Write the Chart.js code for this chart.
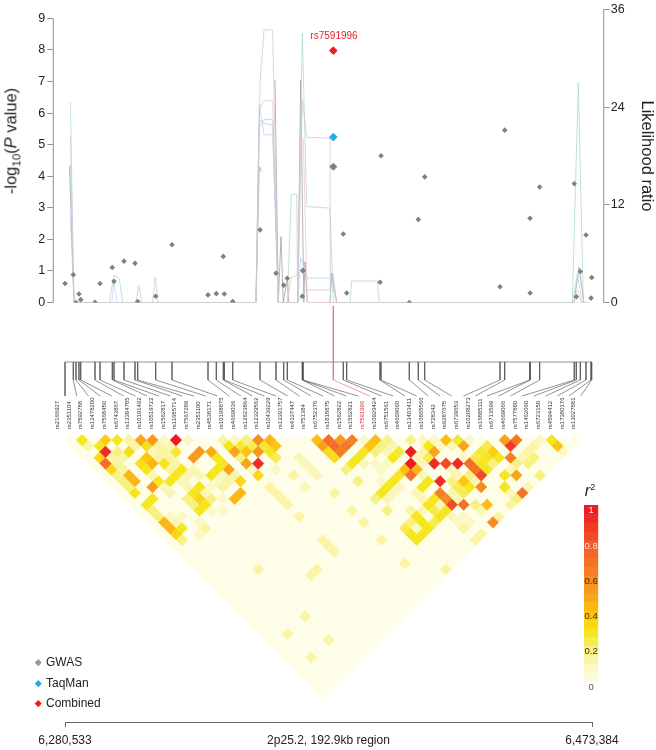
<!DOCTYPE html>
<html>
<head>
<meta charset="utf-8">
<script src="https://cdn.jsdelivr.net/npm/chart.js@4/dist/chart.umd.js"></script>
<style>
  html, body { margin: 0; background: #fff; }
  #page { position: relative; width: 656px; height: 750px; overflow: hidden; font-family: "Liberation Sans", Arial, sans-serif; color: #222; }
  canvas { position: absolute; }
  .note { position: absolute; white-space: nowrap; }
  .mark { position: absolute; width: 4.5px; height: 4.5px; transform: rotate(45deg); }
</style>
</head>
<body>
<div id="page">
  <canvas id="ldChart" style="left:0px;top:380px" width="656" height="325"></canvas>
  <canvas id="assocChart" style="left:0px;top:0px" width="656" height="312"></canvas>
  <canvas id="linkChart" style="left:0px;top:300px" width="656" height="100"></canvas>
  <canvas id="rampChart" style="left:574px;top:500px" width="34" height="195"></canvas>
  <canvas id="regionChart" style="left:0px;top:716px" width="656" height="34"></canvas>

  <div class="note" style="left:12px;top:141px;font-size:16.5px;transform:translate(-50%,-50%) rotate(-90deg)">-log<sub style="font-size:11.5px">10</sub>(<i>P</i> value)</div>
  <div class="note" style="left:334px;top:35px;font-size:10px;color:#ed1c24;transform:translate(-50%,-50%)">rs7591996</div>
  <div class="note" style="left:590px;top:491px;font-size:16px;transform:translate(-50%,-50%)"><i>r</i><sup style="font-size:9px">2</sup></div>

  <div class="mark" style="left:36px;top:660px;background:#999"></div>
  <div class="note" style="left:46px;top:655px;font-size:12px">GWAS</div>
  <div class="mark" style="left:36px;top:681px;background:#27aae1"></div>
  <div class="note" style="left:46px;top:676px;font-size:12px">TaqMan</div>
  <div class="mark" style="left:36px;top:701px;background:#ed1c24"></div>
  <div class="note" style="left:46px;top:696px;font-size:12px">Combined</div>
</div>
<script>
Chart.defaults.animation = false;
Chart.defaults.responsive = false;
Chart.defaults.font.family = '"Liberation Sans", Arial, sans-serif';
Chart.defaults.plugins.legend.display = false;
Chart.defaults.plugins.tooltip.enabled = false;

const snpNames = ['rs2166927','rs2351104','rs7592788','rs12478200','rs7568450','rs6743867','rs13384785','rs10191492','rs10519722','rs1562817','rs11685714','rs7567289','rs2351100','rs4538171','rs10198875','rs4669036','rs12623864','rs12329562','rs10439229','rs13391757','rs4337447','rs751384','rs6752376','rs1818875','rs1562822','rs1562821','rs7591996','rs10929424','rs6751561','rs4669060','rs13403411','rs16865566','rs728342','rs9287675','rs6739653','rs10208273','rs16885111','rs6713599','rs4669066','rs7577880','rs1462060','rs6723150','rs4594412','rs17380176','rs13027881'];

// kb from the start of the region
const regionKb = 192.851;
const snpKb = [0,3.04,4.03,5.12,5.75,10.98,12.81,17.31,17.93,21.59,25.62,26.6,33.19,39.16,52.33,55.37,57.93,58.3,61.37,71.36,77.21,80.03,81.35,86.84,86.98,87.1,98.18,101.84,103.08,115.27,115.64,125.99,129.28,131.62,159.18,160.9,170.16,170.2,173.7,186.37,187.1,188.57,190.65,192.49,192.74];
const gwasLogP = [0.6,0.88,0,0.27,0.09,0.01,0.6,1.11,0.67,1.31,1.24,0.03,0.2,1.83,0.24,0.28,1.46,0.27,0.03,2.3,0.93,0.55,0.77,0.2,1.01,1.01,4.3,2.17,0.3,0.64,4.65,0,2.63,3.98,0.5,5.46,2.67,0.3,3.66,3.76,0.18,0.98,2.14,0.14,0.79];
const focusIndex = 26;
const taqmanLogP = 5.24;
const combinedLogP = 7.98;

// likelihood ratio traces, [kb, LR]
const traceGreen = [[1.65,16.9],[2,16.9],[3.29,0],[16.2,0],[17.93,3.34],[19.88,2.95],[21.1,0],[69.89,0],[71.1,22.5],[72.84,22],[76,21.8],[78.06,0],[81.35,0],[82.81,13.3],[84.79,13.3],[85.15,0],[86.84,33.1],[88.45,11.8],[96.97,11.6],[98.18,0],[104.29,0],[104.91,2.64],[114.28,2.64],[115.01,0],[185.64,0],[187.84,27],[189.67,0]];
const traceBlue = [[1.65,24.5],[2,24.5],[3.29,0],[17.08,0],[17.93,2.5],[19.14,0],[69.89,0],[71.1,24.4],[72.84,20.6],[76,20.6],[78.06,0],[85.15,0],[86.25,5.5],[88.67,3],[96.97,3],[99.42,0],[185.64,0],[187.5,3.53],[189.3,0]];
const traceRed = [[1.65,20.3],[2,20.3],[3.29,0],[69.89,0],[71.1,23.7],[72.84,24.8],[76,24.8],[78.06,0],[81.35,0],[82.81,3.14],[85,3.34],[86.25,20.2],[87.2,20.2],[88.67,0],[186,0],[187.5,1.5],[189,0],[191.75,0]];
const traceLavender = [[1.65,10.5],[2,10.5],[3.29,0],[25.98,0],[26.97,2.13],[28.06,0],[31.96,0],[33.05,3.1],[34.03,0],[69.89,0],[71.4,27.2],[72.84,33.5],[76,33.5],[78.06,0],[85.15,0],[86.84,24.9],[88.45,20.3],[96.97,20.2],[97.1,0],[191.75,0]];
const traceMauve = [[69.89,0],[71.1,21.5],[72.84,22.5],[76,22.5],[78.06,0],[85.15,0],[87.82,1.55],[96.97,1.55],[98,3.6],[99.42,0]];
const traceDark = [[1.65,16.7],[3.29,0],[69.89,0],[71.1,16.7],[71.99,16.1],[72,null],[76.85,27.3],[78.06,0],[79.04,8.1],[79.88,0],[81.35,3],[81.9,0],[85.15,0],[86.25,27.3],[87.4,0],[87.82,5],[88.67,0],[96.97,0],[97.6,3.6],[99.42,0],[186.26,0],[188.09,4.34],[189.92,0],[191.75,0]];

// LD cells: [sum of the two SNP indexes, difference of the two SNP indexes, r2]
const ldCells = [
  [3,1,.3],[7,1,.38],[9,1,.3],[11,1,.15],[13,1,.5],[15,1,.55],[17,1,.1],[19,1,1],[21,1,.1],[27,1,.15],[29,1,.1],[31,1,.2],[33,1,.58],[35,1,.45],[43,1,.42],[45,1,.72],[47,1,.55],[49,1,.65],[51,1,.1],[53,1,.42],[55,1,.18],[59,1,.18],[61,1,.1],[63,1,.1],[65,1,.42],[67,1,.28],[69,1,.1],[75,1,.52],[77,1,.68],[81,1,.1],[83,1,.3],
  [4,2,.15],[6,2,.3],[12,2,.15],[14,2,.33],[16,2,.15],[18,2,.12],[28,2,.3],[30,2,.28],[32,2,.25],[34,2,.28],[36,2,.4],[44,2,.52],[46,2,.72],[48,2,.68],[52,2,.4],[54,2,.2],[56,2,.12],[62,2,.3],[64,2,.1],[66,2,.12],[68,2,.5],[72,2,.25],[76,2,.9],[80,2,.15],[84,2,.4],
  [7,3,.95],[9,3,.2],[11,3,.33],[15,3,.12],[17,3,.15],[19,3,.28],[23,3,.55],[25,3,.48],[29,3,.5],[31,3,.4],[33,3,.55],[35,3,.3],[45,3,.33],[47,3,.65],[51,3,.3],[53,3,.2],[55,3,.12],[57,3,.28],[59,3,1],[61,3,.12],[63,3,.5],[71,3,.28],[73,3,.38],[79,3,.15],[85,3,.1],
  [6,4,.35],[8,4,.15],[10,4,.15],[14,4,.4],[16,4,.15],[18,4,.15],[22,4,.55],[26,4,.3],[30,4,.2],[36,4,.25],[40,4,.12],[46,4,.33],[50,4,.3],[56,4,.3],[60,4,.12],[62,4,.25],[68,4,.1],[70,4,.25],[72,4,.3],[74,4,.3],[76,4,.65],[78,4,.12],[80,4,.2],
  [7,5,.72],[9,5,.15],[13,5,.33],[15,5,.45],[17,5,.3],[19,5,.15],[27,5,.3],[31,5,.5],[33,5,.95],[41,5,.12],[49,5,.3],[51,5,.12],[53,5,.1],[55,5,.1],[59,5,1],[61,5,.12],[63,5,.95],[65,5,.85],[67,5,.95],[69,5,.72],[71,5,.3],[73,5,.2],[77,5,.2],[79,5,.2],
  [8,6,.35],[10,6,.15],[14,6,.3],[18,6,.15],[20,6,.3],[22,6,.12],[26,6,.3],[28,6,.5],[32,6,.1],[36,6,.1],[42,6,.12],[48,6,.2],[54,6,.1],[58,6,.42],[60,6,.45],[66,6,.12],[70,6,.7],[72,6,.3],[76,6,.12],
  [9,7,.18],[11,7,.45],[15,7,.12],[19,7,.3],[21,7,.12],[23,7,.12],[25,7,.3],[27,7,.12],[29,7,.15],[33,7,.35],[39,7,.15],[43,7,.12],[57,7,.3],[59,7,.7],[61,7,.12],[67,7,.12],[69,7,.2],[71,7,.85],[75,7,.3],[77,7,.5],[81,7,.2],
  [10,8,.2],[12,8,.45],[16,8,.3],[18,8,.3],[20,8,.12],[26,8,.1],[28,8,.15],[30,8,.35],[50,8,.2],[54,8,.1],[56,8,.3],[62,8,.3],[64,8,.95],[66,8,.2],[68,8,.4],[70,8,.12],
  [11,9,.2],[15,9,.55],[17,9,.12],[21,9,.12],[23,9,.3],[25,9,.1],[27,9,.15],[35,9,.15],[41,9,.12],[55,9,.3],[57,9,.12],[61,9,.3],[67,9,.25],[69,9,.3],[71,9,.6],[75,9,.3],[79,9,.12],
  [12,10,.3],[18,10,.12],[22,10,.3],[24,10,.12],[30,10,.45],[36,10,.15],[46,10,.15],[54,10,.3],[56,10,.12],[60,10,.12],[64,10,.65],[66,10,.12],[68,10,.25],[76,10,.12],[78,10,.7],
  [15,11,.3],[21,11,.2],[23,11,.35],[25,11,.2],[27,11,.1],[29,11,.45],[37,11,.15],[53,11,.2],[55,11,.12],[61,11,.12],[63,11,.3],[65,11,.6],[67,11,.12],[77,11,.2],
  [14,12,.3],[22,12,.2],[24,12,.3],[38,12,.15],[62,12,.3],[64,12,.12],[66,12,.85],[68,12,.7],[70,12,.2],[72,12,.42],[76,12,.15],
  [15,13,.2],[23,13,.3],[25,13,.1],[27,13,.1],[49,13,.15],[55,13,.2],[59,13,.15],[61,13,.12],[63,13,.25],[65,13,.3],[71,13,.12],
  [16,14,.2],[18,14,.1],[20,14,.1],[40,14,.15],[60,14,.3],[64,14,.3],[66,14,.12],[68,14,.1],[74,14,.15],
  [17,15,.45],[19,15,.12],[23,15,.1],[51,15,.15],[59,15,.2],[61,15,.3],[63,15,.25],[67,15,.1],[69,15,.1],[73,15,.6],
  [18,16,.45],[20,16,.3],[24,16,.15],[58,16,.25],[60,16,.1],[62,16,.3],[68,16,.15],
  [19,17,.35],[23,17,.1],[59,17,.3],[61,17,.3],[71,17,.15],
  [20,18,.2],[44,18,.15],[54,18,.15],[60,18,.3],[70,18,.15],
  [45,19,.15],[46,20,.15],[58,22,.15],[33,23,.15],[43,23,.15],[65,23,.15],[42,24,.15],[41,31,.15],[38,34,.15],[45,35,.15],[42,38,.15]
];

const rampValues = [0,.1,.2,.3,.4,.5,.6,.8,1];
const rampColours = [[254,254,232],[251,248,198],[248,240,130],[245,230,30],[253,197,15],[249,165,27],[246,139,31],[240,89,43],[237,28,36]];
const rampLevels = [.03,.08,.13,.18,.23,.28,.33,.38,.43,.48,.53,.58,.63,.68,.73,.78,.83,.88,.93,.98];
const rampLabels = ['0','0.2','0.4','0.6','0.8','1'];
const rampLabelValues = [0,.2,.4,.6,.8,1];

function rampColour(r) {
    let k = 0;
    while (k < rampValues.length - 2 && r > rampValues[k + 1]) k++;
    const t = Math.min(1, (r - rampValues[k]) / (rampValues[k + 1] - rampValues[k]));
    const rgb = rampColours[k].map((v, n) => Math.round(v + (rampColours[k + 1][n] - v) * t));
    return `rgb(${rgb[0]},${rgb[1]},${rgb[2]})`;
}

function traceSet(points, colour) {
    return {
        data: points.map((p) => ({x: p[0], y: p[1]})),
        borderColor: colour, borderWidth: 0.75, pointRadius: 0, yAxisID: 'y2', order: 5, spanGaps: false
    };
}

const xLeft = -4.28;
const gwasPoints = snpKb.map((kb, i) => ({x: kb, y: gwasLogP[i]}));

new Chart('assocChart', {
    type: 'line',
    data: {
        datasets: [
            {data: [{x: snpKb[focusIndex], y: combinedLogP}], showLine: false, pointStyle: 'rectRot', pointRadius: 3.8, backgroundColor: '#ed1c24', borderColor: '#ed1c24', order: 1},
            {data: [{x: snpKb[focusIndex], y: taqmanLogP}], showLine: false, pointStyle: 'rectRot', pointRadius: 3.8, backgroundColor: '#27aae1', borderColor: '#27aae1', order: 1},
            {data: gwasPoints, showLine: false, pointStyle: 'rectRot', pointBorderWidth: 0,
             pointRadius: (ctx) => ctx.dataIndex === focusIndex ? 4 : 2.8, backgroundColor: '#808080', order: 2},
            traceSet(traceLavender, '#cfc6d7'),
            traceSet(traceMauve, '#d4c2d2'),
            traceSet(traceBlue, '#b3d6ec'),
            traceSet(traceRed, '#f4c0c0'),
            traceSet(traceGreen, '#aedac2'),
            traceSet(traceDark, '#9c9c9c'),
            // left axis stops at 9, the right one runs to the top
            {data: [{x: xLeft, y: 0}, {x: xLeft, y: 9}], borderColor: '#a0a0a0', borderWidth: 1.2, pointRadius: 0, clip: false, order: 6}
        ]
    },
    options: {
        parsing: {xAxisKey: 'x', yAxisKey: 'y'},
        layout: {padding: {top: 8.3, bottom: 6}},
        scales: {
            x: {type: 'linear', display: false, min: xLeft, max: 197.13},
            y: {
                position: 'left', min: 0, max: 9.283,
                afterFit(ax) { ax.width = 53.3; },
                border: {display: false},
                grid: {drawOnChartArea: false, tickLength: 6, color: '#909090'},
                ticks: {stepSize: 1, includeBounds: false, padding: 2, color: '#222', font: {size: 12.5}}
            },
            y2: {
                position: 'right', min: 0, max: 36,
                afterFit(ax) { ax.width = 52.3; },
                border: {color: '#a8a8a8', width: 1.3},
                grid: {drawOnChartArea: false, tickLength: 6, color: '#909090'},
                ticks: {stepSize: 12, padding: 1, color: '#222', font: {size: 12.5}},
                title: {display: true, text: 'Likelihood ratio', color: '#222', font: {size: 16.5}, padding: {top: 0, bottom: 1}}
            }
        }
    }
});

// stems from the region line down to the rotated names
const slotKb = 4.289;
const levelEnd = 0, levelElbow = 16, levelBar = 34, levelFloor = 90;
const stemSets = snpKb.map((kb, i) => ({
    data: [{x: kb, y: i === focusIndex ? levelFloor : levelBar}, {x: kb, y: levelElbow}, {x: i * slotKb, y: levelEnd}],
    borderColor: i === focusIndex ? '#ef6068' : '#4a4a4a',
    borderWidth: 0.6, pointRadius: 0, order: i === focusIndex ? 0 : 1, clip: false
}));
stemSets.push({data: [{x: 0, y: levelBar}, {x: regionKb, y: levelBar}], borderColor: '#666', borderWidth: 0.7, pointRadius: 0, order: 2});

new Chart('linkChart', {
    type: 'line',
    data: {datasets: stemSets},
    options: {
        layout: {padding: {left: 65, right: 64, top: 6, bottom: 4}},
        scales: {
            x: {type: 'linear', display: false, min: 0, max: regionKb},
            y: {display: false, min: levelEnd, max: levelFloor}
        }
    }
});

// every pair gets a cell, the listed ones carry their r2 on top of the cream base
const ldBase = [];
for (let i = 0; i < snpNames.length; i++) {
    for (let j = i + 1; j < snpNames.length; j++) {
        ldBase.push({x: (i + j) / 2, y: j - i, r: 0});
    }
}
const ldHot = ldCells.map((c) => ({x: c[0] / 2, y: c[1], r: c[2]})).sort((a, b) => a.r - b.r);
const ldPoints = ldBase.concat(ldHot);
const ldColours = ldPoints.map((p) => rampColour(p.r));

new Chart('ldChart', {
    type: 'scatter',
    data: {
        datasets: [{
            data: ldPoints,
            pointStyle: 'rectRot',
            pointRadius: 5.8,
            pointBorderWidth: 0.5,
            pointBorderColor: ldColours,
            backgroundColor: ldColours,
            clip: false
        }]
    },
    options: {
        layout: {padding: {left: 64.4, right: 75, bottom: 0.6}},
        scales: {
            x: {
                type: 'linear', position: 'top', min: 0, max: snpNames.length - 1,
                afterBuildTicks(ax) { ax.ticks = snpNames.map((_, i) => ({value: i})); },
                afterFit(ax) { ax.height = 54.2; },
                border: {display: false},
                grid: {display: false, drawTicks: false},
                ticks: {
                    autoSkip: false, minRotation: 90, maxRotation: 90, padding: 5,
                    font: {size: 6},
                    color: (ctx) => ctx.index === focusIndex ? '#ed1c24' : '#333',
                    callback: (v) => snpNames[v]
                }
            },
            y: {display: false, reverse: true, min: 0, max: snpNames.length}
        }
    }
});

const rampLabelPlugin = {
    id: 'rampLabels',
    afterDatasetsDraw(chart) {
        const {ctx, scales, chartArea} = chart;
        ctx.save();
        ctx.font = '9.5px "Liberation Sans", Arial, sans-serif';
        ctx.textAlign = 'center';
        ctx.textBaseline = 'middle';
        rampLabels.forEach((label, i) => {
            ctx.fillStyle = rampLabelValues[i] >= 0.8 ? '#fbe9e0' : (rampLabelValues[i] === 0 ? '#555' : '#3a3210');
            ctx.fillText(label, (chartArea.left + chartArea.right) / 2, scales.y.getPixelForValue(rampLabelValues[i]));
        });
        ctx.restore();
    }
};

new Chart('rampChart', {
    type: 'bar',
    data: {
        labels: ['r2'],
        datasets: rampLevels.map((lo) => ({
            data: [[lo, lo + 0.0505]],
            backgroundColor: rampColour(lo + 0.02),
            barPercentage: 1, categoryPercentage: 1, grouped: false
        }))
    },
    options: {
        layout: {padding: {left: 10, right: 9.7, top: 2, bottom: 8}},
        scales: {
            x: {display: false},
            y: {display: false, min: 0, max: 1.05}
        }
    },
    plugins: [rampLabelPlugin]
});

const regionTicks = [0, regionKb / 2, regionKb];
const regionLabels = ['6,280,533', '2p25.2, 192.9kb region', '6,473,384'];

new Chart('regionChart', {
    type: 'scatter',
    data: {datasets: [{data: []}]},
    options: {
        layout: {padding: {left: 65, right: 64, top: 5}},
        scales: {
            x: {
                type: 'linear', position: 'bottom', min: 0, max: regionKb,
                afterBuildTicks(ax) { ax.ticks = regionTicks.map((v) => ({value: v})); },
                afterFit(ax) { ax.height = 28; },
                border: {color: '#555', width: 0.9},
                grid: {drawOnChartArea: false, tickLength: 5, tickWidth: 0.9, tickColor: (ctx) => ctx.index === 1 ? 'rgba(0,0,0,0)' : '#555'},
                ticks: {autoSkip: false, maxRotation: 0, padding: 6, color: '#222', font: {size: 12}, callback: (v, i) => regionLabels[i]}
            },
            y: {display: false}
        }
    }
});
</script>
</body>
</html>
